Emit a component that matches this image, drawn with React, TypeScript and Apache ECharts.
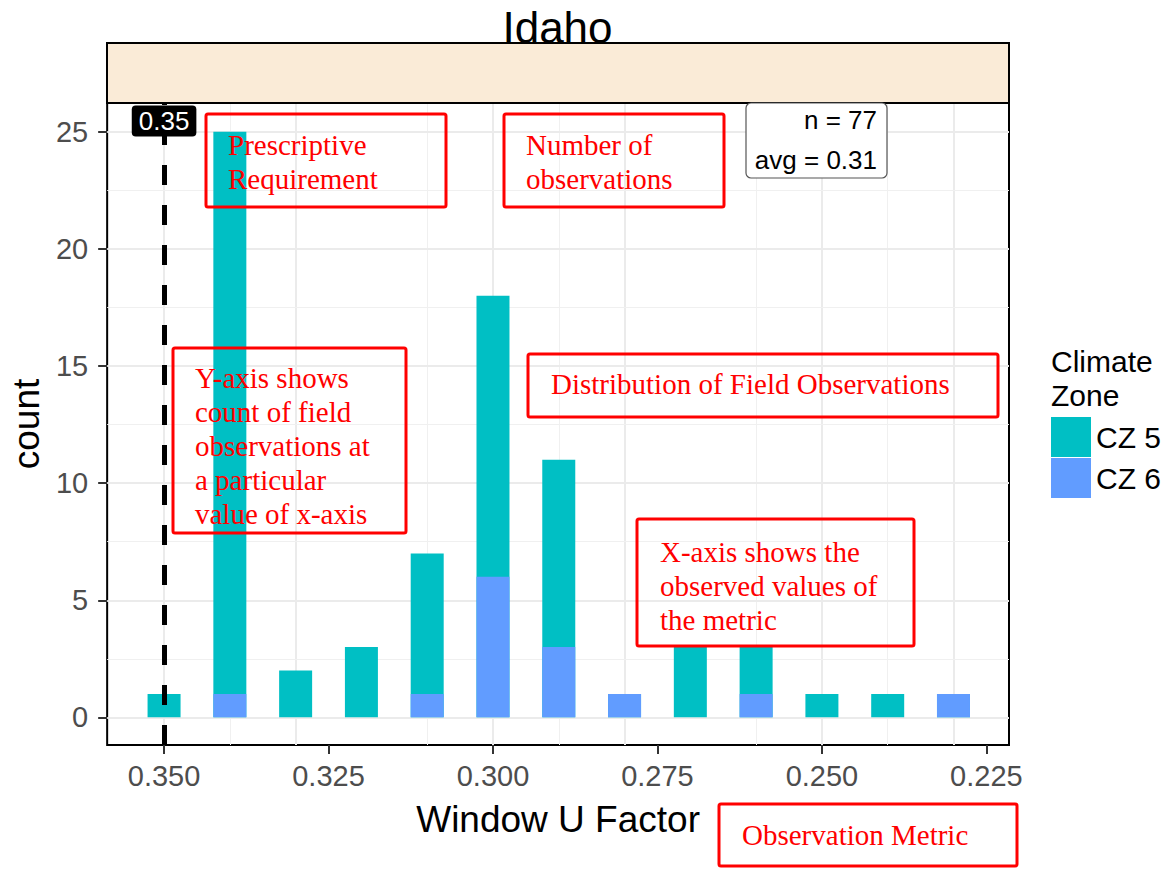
import React, { useEffect, useRef } from "react";
import * as echarts from "echarts";

// ---- data ----
const X_VALUES = [0.35, 0.34, 0.33, 0.32, 0.31, 0.3, 0.29, 0.28, 0.27, 0.26, 0.25, 0.24, 0.23];
const CZ5 = [1, 24, 2, 3, 6, 12, 8, 0, 3, 2, 1, 1, 0];
const CZ6 = [0, 1, 0, 0, 1, 6, 3, 1, 0, 1, 0, 0, 1];
const SERIES_NAMES = ["CZ 5", "CZ 6"];
const X_TICKS = [0.35, 0.325, 0.3, 0.275, 0.25, 0.225];
const X_MINOR = [0.3375, 0.3125, 0.2875, 0.2625, 0.2375];
const Y_TICKS = [0, 5, 10, 15, 20, 25];
const Y_MINOR = [2.5, 7.5, 12.5, 17.5, 22.5];
const X_MIN = 0.22156;
const X_MAX = 0.35865;
const Y_MIN = -1.18;
const Y_MAX = 26.23;
const REQUIREMENT = 0.35;
const REQ_LABEL_Y = 25.46;
const FACET = "Idaho";
const N_LABEL = "n = 77";
const AVG_LABEL = "avg = 0.31";
const X_TITLE = "Window U Factor";
const Y_TITLE = "count";
const LEGEND_TITLE = "Climate\nZone";

const SANS = "'Liberation Sans', Arial, sans-serif";
const SERIF = "'Liberation Serif', 'Times New Roman', serif";
const TEAL = "#00BFC4";
const BLUE = "#619CFF";

function redBox(x: number, y: number, w: number, h: number, text: string, tx: number, ty: number) {
  return [
    {
      type: "rect",
      z: 100,
      shape: { x, y, width: w, height: h, r: 2 },
      style: { fill: "none", stroke: "#FF0000", lineWidth: 3 },
    },
    {
      type: "text",
      z: 101,
      style: {
        text,
        x: tx,
        y: ty,
        fill: "#FF0000",
        fontFamily: SERIF,
        fontSize: 29,
        lineHeight: 34,
        verticalAlign: "top",
        align: "left",
      },
    },
  ];
}

export default function App() {
  const ref = useRef<HTMLDivElement>(null);
  useEffect(() => {
    if (!ref.current) return;
    const chart = echarts.init(ref.current, undefined, { renderer: "svg" });
    // stacked height of each bin: CZ 6 at the bottom, CZ 5 on top
    const totals = X_VALUES.map((_, i) => CZ5[i] + CZ6[i]);
    const gridLines = [
      ...X_TICKS.map((v) => ({ xAxis: v, lineStyle: { width: 2, color: "#EBEBEB", type: "solid" } })),
      ...X_MINOR.map((v) => ({ xAxis: v, lineStyle: { width: 1, color: "#F0F0F0", type: "solid" } })),
      ...Y_TICKS.map((v) => ({ yAxis: v, lineStyle: { width: 2, color: "#EBEBEB", type: "solid" } })),
      ...Y_MINOR.map((v) => ({ yAxis: v, lineStyle: { width: 1, color: "#F0F0F0", type: "solid" } })),
    ];
    const option: any = {
      animation: false,
      backgroundColor: "#FFFFFF",
      grid: {
        left: 107,
        right: 163,
        top: 103,
        bottom: 124,
        show: true,
        borderColor: "#000000",
        borderWidth: 2,
        backgroundColor: "transparent",
        containLabel: false,
      },
      legend: {
        data: SERIES_NAMES,
        orient: "vertical",
        left: 1051,
        top: 417,
        padding: 0,
        itemWidth: 40,
        itemHeight: 40,
        itemGap: 1,
        icon: "rect",
        selectedMode: false,
        textStyle: { fontFamily: SANS, fontSize: 30, color: "#000" },
      },
      xAxis: {
        type: "value",
        inverse: true,
        min: X_MIN,
        max: X_MAX,
        name: X_TITLE,
        nameLocation: "middle",
        nameGap: 56,
        nameTextStyle: { fontFamily: SANS, fontSize: 37, color: "#000" },
        axisLine: { show: false, onZero: false },
        splitLine: { show: false },
        axisTick: {
          show: true,
          customValues: X_TICKS,
          length: 9,
          lineStyle: { color: "#333333", width: 2 },
        },
        axisLabel: {
          customValues: X_TICKS,
          formatter: (v: number) => v.toFixed(3),
          fontFamily: SANS,
          fontSize: 29,
          color: "#4D4D4D",
          margin: 16,
        },
      },
      yAxis: {
        type: "value",
        min: Y_MIN,
        max: Y_MAX,
        name: Y_TITLE,
        nameLocation: "middle",
        nameRotate: 90,
        nameGap: 54,
        nameTextStyle: { fontFamily: SANS, fontSize: 37, color: "#000" },
        axisLine: { show: false, onZero: false },
        splitLine: { show: false },
        axisTick: {
          show: true,
          customValues: Y_TICKS,
          length: 9,
          lineStyle: { color: "#333333", width: 2 },
        },
        axisLabel: {
          customValues: Y_TICKS,
          fontFamily: SANS,
          fontSize: 29,
          color: "#4D4D4D",
          margin: 19,
        },
      },
      series: [
        {
          name: "grid",
          type: "line",
          data: [],
          z: 1,
          silent: true,
          markLine: {
            silent: true,
            z: 1,
            symbol: ["none", "none"],
            label: { show: false },
            animation: false,
            data: gridLines,
          },
        },
        {
          name: SERIES_NAMES[0],
          type: "bar",
          barWidth: 33,
          barGap: "-100%",
          z: 3,
          itemStyle: { color: TEAL },
          data: X_VALUES.map((x, i) => [x, totals[i]]),
          markLine: {
            silent: true,
            z: 10,
            symbol: ["none", "none"],
            label: { show: false },
            lineStyle: { color: "#000", width: 5, type: [20, 20] },
            data: [[{ coord: [REQUIREMENT, Y_MIN] }, { coord: [REQUIREMENT, Y_MAX] }]],
          },
          markPoint: {
            silent: true,
            z: 11,
            symbol: "rect",
            symbolSize: 0,
            data: [{ coord: [REQUIREMENT, REQ_LABEL_Y], value: REQUIREMENT }],
            label: {
              show: true,
              position: "inside",
              formatter: () => REQUIREMENT.toFixed(2),
              backgroundColor: "#000",
              color: "#fff",
              fontFamily: SANS,
              fontSize: 26,
              padding: [3, 7, 2, 7],
              borderRadius: 4,
            },
          },
        },
        {
          name: SERIES_NAMES[1],
          type: "bar",
          barWidth: 33,
          barGap: "-100%",
          z: 4,
          itemStyle: { color: BLUE },
          data: X_VALUES.map((x, i) => [x, CZ6[i]]),
        },
      ],
      graphic: [
        {
          type: "rect",
          z: 50,
          shape: { x: 107, y: 43, width: 902, height: 60 },
          style: { fill: "#FAEBD7", stroke: "#000", lineWidth: 2 },
        },
        {
          type: "text",
          z: 51,
          style: {
            text: FACET,
            x: 557.5,
            y: 27,
            align: "center",
            verticalAlign: "middle",
            fontFamily: SANS,
            fontSize: 44,
            fill: "#000",
          },
        },
        {
          type: "rect",
          z: 60,
          shape: { x: 746, y: 103, width: 141, height: 75, r: 5 },
          style: { fill: "#fff", stroke: "#555", lineWidth: 1.2 },
        },
        {
          type: "text",
          z: 61,
          style: {
            text: N_LABEL + "\n" + AVG_LABEL,
            x: 877,
            y: 100,
            align: "right",
            verticalAlign: "top",
            fontFamily: SANS,
            fontSize: 26,
            lineHeight: 40,
            fill: "#000",
          },
        },
        {
          type: "text",
          z: 61,
          style: {
            text: LEGEND_TITLE,
            x: 1051,
            y: 344,
            align: "left",
            verticalAlign: "top",
            fontFamily: SANS,
            fontSize: 30,
            lineHeight: 34,
            fill: "#000",
          },
        },
        ...redBox(206, 114, 240, 93, "Prescriptive\nRequirement", 228, 128),
        ...redBox(504, 114, 220, 93, "Number of\nobservations", 526, 128),
        ...redBox(173, 348, 233, 185, "Y-axis shows\ncount of field\nobservations at\na particular\nvalue of x-axis", 195, 361),
        ...redBox(528, 354, 470, 63, "Distribution of Field Observations", 551, 367),
        ...redBox(637, 519, 277, 127, "X-axis shows the\nobserved values of\nthe metric", 660, 535),
        ...redBox(719, 804, 298, 62, "Observation Metric", 742, 818),
      ],
    };
    chart.setOption(option);
    return () => chart.dispose();
  }, []);
  return (
    <div
      ref={ref}
      style={{ position: "fixed", left: 0, top: 0, width: 1172, height: 869, background: "#fff" }}
    />
  );
}
